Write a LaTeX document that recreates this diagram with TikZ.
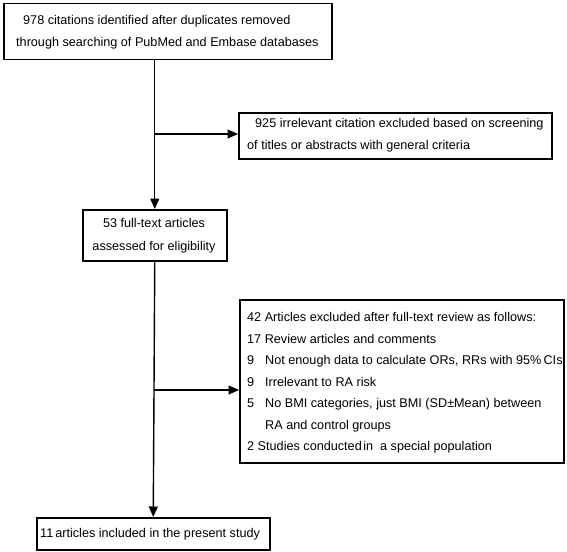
\documentclass[tikz,border=0pt]{standalone}
\usepackage{fontspec}
\setmainfont{Liberation Sans}
\usetikzlibrary{arrows.meta}
\begin{document}
\begin{tikzpicture}[x=1pt,y=-1pt,
  box/.style={draw=black,line width=1.5pt,inner sep=0pt,anchor=north west},
  txt/.style={anchor=base west,inner sep=0pt,font=\fontsize{12.65}{14}\selectfont},
  ctxt/.style={anchor=base,inner sep=0pt,font=\fontsize{12.65}{14}\selectfont},
  arr/.style={line width=1.4pt,-{Triangle[length=10.5pt,width=9pt]}}]
\useasboundingbox (0,0) rectangle (567,551);
% boxes
\node[box,minimum width=328pt,minimum height=56pt] (b1) at (3,3) {};
\node[box,minimum width=313pt,minimum height=46pt] (b2) at (238,112) {};
\node[box,minimum width=144pt,minimum height=51pt] (b3) at (82,209) {};
\node[box,minimum width=324pt,minimum height=163pt] (b4) at (239,299) {};
\node[box,minimum width=233pt,minimum height=32pt] (b5) at (36,517) {};
% texts
\node[txt] (t1a) at (23,24.5) {978 citations identified after duplicates removed};
\node[txt] (t1b) at (16,46.5) {through searching of PubMed and Embase databases};
\node[txt] (t2a) at (255,127.5) {925 irrelevant citation excluded based on screening};
\node[txt] (t2b) at (247,149.5) {of titles or abstracts with general criteria};
\node[ctxt] (t3a) at (154,227.5) {53 full-text articles};
\node[ctxt] (t3b) at (154,250.5) {assessed for eligibility};
\node[txt] (t4a) at (247,321.5) {42 Articles excluded after full-text review as follows:};
\node[txt] (t4b) at (247,343) {17 Review articles and comments};
\node[txt] (t4c) at (247,364.5) {9};
\node[txt] (t4cc) at (265,364.5) {Not enough data to calculate ORs, RRs with 95\%\,CIs};
\node[txt] (t4d) at (247,386) {9};
\node[txt] (t4dd) at (265,386) {Irrelevant to RA risk};
\node[txt] (t4e) at (247,407.5) {5};
\node[txt] (t4ee) at (265,407.5) {No BMI categories, just BMI (SD±Mean) between};
\node[txt] (t4f) at (265,429) {RA and control groups};
\node[txt] (t4g) at (247,450.5) {2 Studies conducted\hspace{1.5pt}in\hspace{7pt}a special population};
\node[txt] (t5) at (40,537.5) {11\hspace{2pt}articles included in the present study};
% connectors
\coordinate (j1) at (154,134);
\coordinate (j2) at (154,390);
\draw[arr] (b1.south -| b3.north) -- (b3.north);
\draw[arr] (j1) -- (j1 -| b2.west);
\draw[arr] (b3.south) -- (b5.north);
\draw[arr] (j2) -- (j2 -| b4.west);
\end{tikzpicture}
\end{document}
